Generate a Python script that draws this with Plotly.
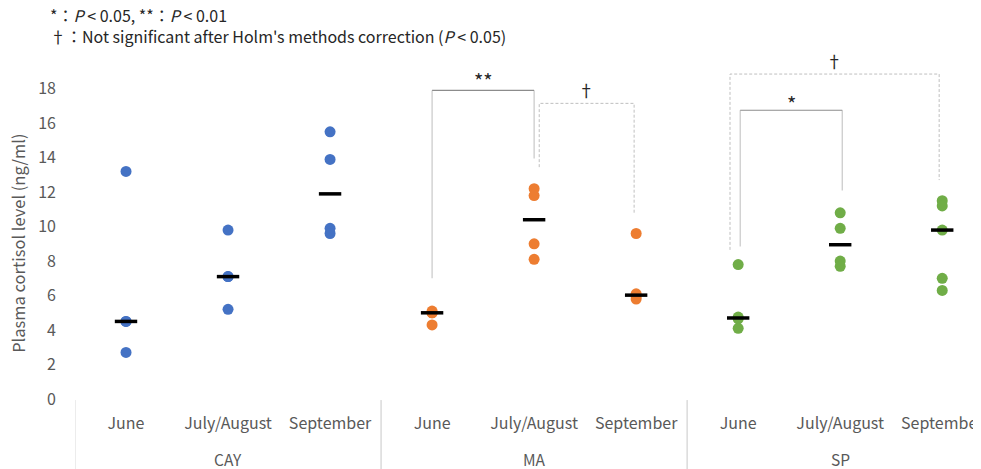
import numpy as np
import plotly.graph_objects as go

groups = ["CAY", "MA", "SP"]
months = ["June", "July/August", "September"]
colors = ["#4472C4", "#ED7D31", "#70AD47"]

cay = [[13.2, 4.5, 4.5, 2.7], [9.8, 7.1, 7.1, 5.2], [15.5, 13.9, 9.9, 9.6]]
ma = [[5.1, 5.0, 5.0, 4.3], [12.2, 11.8, 9.0, 8.1], [9.6, 6.1, 5.95, 5.8]]
sp = [[7.8, 4.75, 4.65, 4.1], [10.8, 9.9, 8.0, 7.7], [11.5, 11.2, 9.8, 7.0, 6.3]]
series = [cay, ma, sp]

y_ticks = [0, 2, 4, 6, 8, 10, 12, 14, 16, 18]
y_title = "Plasma cortisol level (ng/ml)"
legend_note = ("*：<i>P</i> < 0.05, **：<i>P</i> < 0.01<br>"
               "†：Not significant after Holm's methods correction (<i>P</i> < 0.05)")

# brackets: (from category index, to category index, top, left leg bottom, right leg bottom, label, dashed, label y)
brackets = [
    (3.0, 4.0, 17.9, 7.0, 13.95, "**", False, 18.45),
    (4.05, 4.98, 17.15, 13.45, 10.7, "†", True, 17.95),
    (5.92, 7.97, 18.85, 8.65, 12.7, "†", True, 19.6),
    (6.02, 7.02, 16.75, 8.85, 12.1, "*", False, 17.15),
]

FONT = "Noto Sans CJK JP"
GRAY = "#595959"
XR = [-0.5, 8.38]

fig = go.Figure()
tickvals, ticktext = [], []
for g, grp in enumerate(groups):
    xs, ys, mx, my = [], [], [], []
    for m, mon in enumerate(months):
        idx = g * len(months) + m
        tickvals.append(idx)
        ticktext.append(mon)
        vals = series[g][m]
        xs += [idx] * len(vals)
        ys += vals
        mx.append(idx)
        my.append(float(np.median(vals)))
    fig.add_trace(go.Scatter(
        x=xs, y=ys, mode="markers",
        marker=dict(color=colors[g], size=11, line=dict(width=0)),
        showlegend=False, hoverinfo="y"))
    fig.add_trace(go.Scatter(
        x=mx, y=my, mode="markers",
        marker=dict(symbol="line-ew", size=16, line=dict(width=3.5, color="black")),
        showlegend=False, hoverinfo="y"))
    # group label and dividers
    center = g * len(months) + (len(months) - 1) / 2
    fig.add_annotation(x=center, y=-0.166, xref="x", yref="paper", text=grp,
                       showarrow=False, yanchor="middle",
                       font=dict(family=FONT, size=15.5, color=GRAY))
    for edge in (g * len(months) - 0.5, (g + 1) * len(months) - 0.5):
        fig.add_shape(type="line", xref="x", yref="paper", x0=edge, x1=edge,
                      y0=-0.003, y1=-0.2, line=dict(color="#d9d9d9", width=1))

for (a, b, top, lb, rb, lab, dashed, ly) in brackets:
    if dashed:
        fig.add_trace(go.Scatter(
            x=[a, a, b, b], y=[lb, top, top, rb], mode="lines",
            line=dict(color="#bfbfbf", width=1, dash="3px,2px"),
            showlegend=False, hoverinfo="skip"))
    else:
        fig.add_trace(go.Scatter(
            x=[a, a, None, b, b], y=[lb, top, None, top, rb], mode="lines",
            line=dict(color="#c8c8c8", width=1.2),
            showlegend=False, hoverinfo="skip"))
        fig.add_trace(go.Scatter(
            x=[a, b], y=[top, top], mode="lines",
            line=dict(color="#8c8c8c", width=1.2),
            showlegend=False, hoverinfo="skip"))
    fig.add_annotation(x=(a + b) / 2, y=ly, xref="x", yref="y", text=lab,
                       showarrow=False, yanchor="middle",
                       font=dict(family=FONT, size=20 if "*" in lab else 16.5, color="#262626"))

fig.add_annotation(xref="paper", yref="paper", x=-0.0298, y=1.0304, xanchor="left",
                   yanchor="middle", align="left", showarrow=False,
                   text=legend_note,
                   font=dict(family=FONT, size=16, color="#262626"))

# y-axis title centred on the 0-18 tick span
fig.add_annotation(xref="paper", yref="y", x=-0.0629, y=(y_ticks[0] + y_ticks[-1]) / 2,
                   xanchor="center", yanchor="middle", textangle=-90, showarrow=False,
                   text=y_title, font=dict(family=FONT, size=16.5, color=GRAY))

fig.update_layout(
    width=973, height=461,
    margin=dict(l=67, r=0, t=29, b=70),
    paper_bgcolor="white", plot_bgcolor="white",
    font=dict(family=FONT, color=GRAY),
    xaxis=dict(range=XR, tickvals=tickvals, ticktext=ticktext, showgrid=False,
               showline=False, zeroline=False, ticks="", automargin=False,
               ticklabelstandoff=13, ticklabeloverflow="allow",
               tickfont=dict(family=FONT, size=16, color=GRAY)),
    yaxis=dict(range=[0, 21], tickvals=y_ticks, showgrid=False, zeroline=False,
               showline=False, automargin=False, ticklabelstandoff=18,
               tickfont=dict(family=FONT, size=16, color=GRAY)),
)

fig.write_html("out.html")
